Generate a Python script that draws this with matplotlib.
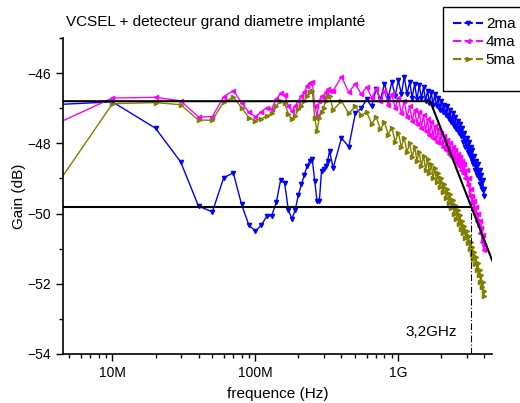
import numpy as np
import matplotlib
matplotlib.use('Agg')
import matplotlib.pyplot as plt
from matplotlib.lines import Line2D
from matplotlib.patches import Rectangle
from matplotlib.ticker import FixedLocator, LogLocator, NullFormatter

plt.rcParams['font.family'] = ['Liberation Sans', 'DejaVu Sans']

# Frequences (Hz): debut du balayage, pas de 10 MHz jusqu'a 330 MHz, puis pas de 50 MHz
freq_bas = [0.3e6] + [f * 1e6 for f in range(10, 340, 10)]
freq_haut = [f * 1e6 for f in range(350, 4050, 50)]
frequence = np.array(freq_bas + freq_haut)

# Gain (dB)
gain_2ma = [
    -47.11, -46.82, -47.57, -48.53, -49.79, -49.95, -48.98, -48.84, -49.74, -50.33, -50.50,
    -50.33, -50.08, -50.06, -49.68, -49.05, -49.12, -49.90, -50.15, -49.89, -49.46,
    -49.17, -48.89, -48.65, -48.50, -48.46, -49.08, -49.65, -49.65, -48.79, -48.74,
    -48.65, -48.50, -48.22,
    -48.70, -47.85, -48.10, -47.15, -47.00, -46.75, -46.95, -46.45, -46.75, -46.30,
    -46.70, -46.25, -46.65, -46.20, -46.60, -46.10, -46.60, -46.25, -46.70, -46.30,
    -46.75, -46.35, -46.70, -46.40, -46.80, -46.50, -46.85, -46.55, -46.90, -46.60,
    -46.95, -46.70, -47.05, -46.80, -47.10, -46.90, -47.20, -46.95, -47.30, -47.05,
    -47.40, -47.15, -47.50, -47.25, -47.60, -47.35, -47.70, -47.45, -47.80, -47.55,
    -47.95, -47.70, -48.10, -47.85, -48.25, -47.95, -48.35, -48.10, -48.50, -48.20,
    -48.60, -48.35, -48.75, -48.50, -48.90, -48.60, -49.00, -48.75, -49.15, -48.90,
    -49.30, -49.05, -49.50, -49.30]
gain_4ma = [
    -49.55, -46.71, -46.69, -46.79, -47.25, -47.24, -46.67, -46.50, -46.84, -47.12, -47.24,
    -47.10, -46.98, -47.01, -46.74, -46.58, -46.63, -46.93, -47.08, -46.93, -46.79,
    -46.65, -46.55, -46.36, -46.27, -46.25, -46.93, -47.22, -46.79, -46.65, -46.70,
    -46.55, -46.46, -46.50,
    -46.50, -46.10, -46.55, -46.30, -46.60, -46.40, -46.70, -46.45, -46.80, -46.50,
    -46.90, -46.60, -47.00, -46.70, -47.15, -46.80, -47.25, -46.95, -47.35, -47.05,
    -47.45, -47.10, -47.55, -47.20, -47.65, -47.30, -47.75, -47.40, -47.85, -47.50,
    -47.95, -47.60, -48.00, -47.70, -48.10, -47.80, -48.20, -47.90, -48.30, -48.00,
    -48.35, -48.10, -48.45, -48.20, -48.55, -48.30, -48.65, -48.40, -48.75, -48.50,
    -48.85, -48.60, -49.00, -48.75, -49.20, -49.00, -49.50, -49.30, -49.70, -49.50,
    -49.85, -49.65, -50.00, -49.80, -50.20, -50.00, -50.35, -50.20, -50.55, -50.40,
    -50.80, -50.60, -51.05, -50.90]
gain_5ma = [
    -55.90, -46.87, -46.84, -46.90, -47.34, -47.34, -46.82, -46.69, -46.98, -47.27, -47.36,
    -47.30, -47.22, -47.15, -46.93, -46.79, -46.84, -47.17, -47.31, -47.22, -47.03,
    -46.93, -46.79, -46.65, -46.55, -46.50, -47.27, -47.65, -47.27, -47.12, -46.98,
    -46.79, -46.65, -46.65,
    -47.05, -46.80, -47.15, -46.95, -47.20, -47.10, -47.45, -47.25, -47.60, -47.40,
    -47.75, -47.55, -47.95, -47.70, -48.10, -47.85, -48.25, -48.00, -48.40, -48.10,
    -48.50, -48.25, -48.65, -48.35, -48.75, -48.45, -48.85, -48.60, -49.00, -48.70,
    -49.10, -48.85, -49.25, -49.00, -49.40, -49.15, -49.55, -49.30, -49.70, -49.45,
    -49.85, -49.60, -50.00, -49.75, -50.15, -49.90, -50.30, -50.05, -50.45, -50.20,
    -50.55, -50.35, -50.70, -50.50, -50.85, -50.65, -51.00, -50.80, -51.15, -50.95,
    -51.30, -51.10, -51.45, -51.25, -51.60, -51.40, -51.75, -51.60, -51.95, -51.75,
    -52.10, -51.95, -52.35, -52.20]

# Droites d'asymptote et frequence de coupure
asym_x = [1e6, 1.67e9, 4.6e9]
asym_y = [-46.8, -46.8, -51.4]
seuil_x = [1e6, 3.2e9]
seuil_y = [-49.8, -49.8]
f_coupure = 3.2e9

series = [
    ('2ma', gain_2ma, '#0000FF', 'v'),
    ('4ma', gain_4ma, '#FF00FF', '<'),
    ('5ma', gain_5ma, '#808000', '>'),
]

fig = plt.figure(figsize=(5.2, 4.03), dpi=100)
ax = fig.add_axes([0.121, 0.1216, 0.8246, 0.7841])

for nom, g, c, m in series:
    ax.plot(frequence, g, color=c, marker=m, markersize=3, linewidth=1)

ax.plot(asym_x, asym_y, color='black', linewidth=1.5)
ax.plot(seuil_x, seuil_y, color='black', linewidth=1.5)
ax.plot([f_coupure, f_coupure], [-54, -49.8], color='black', linewidth=0.8,
        linestyle=(0, (6, 2, 1, 2)))
ax.text(1.7e9, -53.37, '3,2GHz', ha='center', va='center', fontsize=11)

ax.set_xscale('log')
ax.set_xlim(4.5e6, 4.5e9)
ax.set_ylim(-54, -45)

ax.xaxis.set_major_locator(FixedLocator([1e7, 1e8, 1e9]))
ax.set_xticklabels(['10M', '100M', '1G'])
ax.xaxis.set_minor_locator(LogLocator(base=10, subs=range(2, 10)))
ax.xaxis.set_minor_formatter(NullFormatter())
ax.set_yticks([-54, -52, -50, -48, -46])
ax.set_yticks([-53, -51, -49, -47, -45], minor=True)

ax.spines['top'].set_visible(False)
ax.spines['right'].set_visible(False)
ax.spines['left'].set_linewidth(1.2)
ax.spines['bottom'].set_linewidth(1.2)
ax.tick_params(which='major', direction='out', length=5, width=1, labelsize=10)
ax.tick_params(which='minor', direction='out', length=3, width=1)

ax.set_xlabel('frequence (Hz)', fontsize=11, labelpad=5)
ax.set_ylabel('Gain (dB)', fontsize=11, labelpad=1)
fig.text(66 / 520, 1 - 22 / 403, 'VCSEL + detecteur grand diametre implanté',
         fontsize=11, va='center', ha='left')

# Legende sans cadre, cadre dessine a part (il deborde a droite comme dans l'original)
poignees = [Line2D([0], [0], color=c, marker=m, markersize=3, linewidth=1.5,
                   linestyle=(0, (4, 1.5))) for nom, g, c, m in series]
leg = fig.legend(poignees, [s[0] for s in series], loc='upper left',
                 bbox_to_anchor=(443 / 520, 1 - 7.3 / 403), borderaxespad=0,
                 fontsize=11, frameon=False, handlelength=1.95,
                 labelspacing=0.25, borderpad=0.65, handletextpad=0.2)
fig.patches.append(Rectangle((443 / 520, 1 - 90.7 / 403), 0.2, 83.4 / 403,
                             transform=fig.transFigure, fill=False,
                             edgecolor='black', linewidth=1))

plt.savefig('out.png', dpi=100)
plt.close()
